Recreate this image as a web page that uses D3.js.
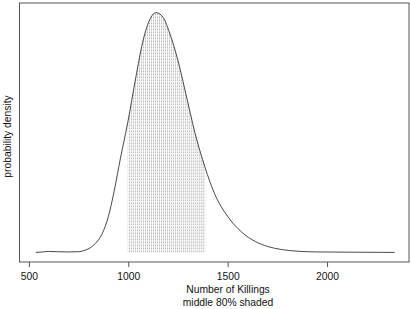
<!DOCTYPE html>
<html>
<head>
<meta charset="utf-8">
<script src="https://cdn.jsdelivr.net/npm/d3@7"></script>
<style>
  body { margin: 0; background: #fff; }
  svg { display: block; font-family: "Liberation Sans", Arial, sans-serif; }
</style>
</head>
<body>
<script>
// density curve (number of killings, relative density)
var killings = [535, 570, 600, 640, 700, 750, 783, 810, 833, 867, 900, 930, 960, 997,
  1038, 1072, 1105, 1140, 1175, 1210, 1250, 1290, 1335, 1386, 1434, 1500, 1570, 1640,
  1700, 1770, 1850, 1950, 2100, 2340];
var density = [0, 0.002, 0.004, 0.003, 0.002, 0.003, 0.009, 0.02, 0.036, 0.075, 0.15, 0.26, 0.39, 0.54,
  0.73, 0.875, 0.965, 1.0, 0.98, 0.91, 0.80, 0.66, 0.50, 0.355, 0.245, 0.15, 0.085, 0.045,
  0.025, 0.012, 0.005, 0.002, 0.001, 0];
var shadeRange = [997, 1387];   // middle 80%
var xTicks = [500, 1000, 1500, 2000];

var data = killings.map(function(k, i){ return {x: k, y: density[i]}; });

var W = 410, H = 309;
var pLeft = 19.5, pRight = 409, pTop = 3, pBottom = 262;

var xMin = d3.min(killings), xMax = d3.max(killings), yMax = d3.max(density);
var xPad = (xMax - xMin) * 0.04;

var x = d3.scaleLinear()
    .domain([xMin - xPad - 10, xMax + xPad])
    .range([pLeft, pRight]);

var y = d3.scaleLinear()
    .domain([-0.04 * yMax, 1.04 * yMax])
    .range([pBottom, pTop]);

var svg = d3.select("body").append("svg")
    .attr("width", W)
    .attr("height", H);

var line = d3.line()
    .x(function(d){ return x(d.x); })
    .y(function(d){ return y(d.y); })
    .curve(d3.curveMonotoneX);

var area = d3.area()
    .x(function(d){ return x(d.x); })
    .y0(y(0))
    .y1(function(d){ return y(d.y); })
    .curve(d3.curveMonotoneX);

// clips for the shaded middle part
svg.append("clipPath").attr("id", "under")
  .append("path").attr("d", area(data));
svg.append("clipPath").attr("id", "mid")
  .append("rect")
    .attr("x", x(shadeRange[0]))
    .attr("y", pTop)
    .attr("width", x(shadeRange[1]) - x(shadeRange[0]))
    .attr("height", pBottom - pTop);

var hatch = d3.range(shadeRange[0], shadeRange[1] + 1, 10);

svg.append("g")
    .attr("clip-path", "url(#mid)")
  .append("g")
    .attr("clip-path", "url(#under)")
  .selectAll("line")
  .data(hatch)
  .enter().append("line")
    .attr("x1", function(d){ return x(d); })
    .attr("x2", function(d){ return x(d); })
    .attr("y1", y(0))
    .attr("y2", pTop)
    .attr("stroke", "#9a9a9a")
    .attr("stroke-width", 0.7)
    .attr("stroke-dasharray", "2,1");

svg.append("path")
    .attr("d", line(data))
    .attr("fill", "none")
    .attr("stroke", "#333")
    .attr("stroke-width", 0.9);

// box
svg.append("rect")
    .attr("x", pLeft)
    .attr("y", pTop)
    .attr("width", pRight - pLeft)
    .attr("height", pBottom - pTop)
    .attr("fill", "none")
    .attr("stroke", "#555")
    .attr("stroke-width", 1);

var xAxis = d3.axisBottom(x)
    .tickValues(xTicks)
    .tickFormat(d3.format("d"))
    .tickSize(5)
    .tickPadding(5.3);

var gx = svg.append("g")
    .attr("transform", "translate(0," + pBottom + ")")
    .call(xAxis);
gx.select(".domain").remove();
gx.selectAll("line").attr("stroke", "#555");
gx.selectAll("text")
    .attr("font-size", 10.3)
    .attr("fill", "#111");

svg.append("text")
    .attr("x", 228)
    .attr("y", 293.3)
    .attr("text-anchor", "middle")
    .attr("font-size", 10.3)
    .attr("fill", "#111")
    .text("Number of Killings");

svg.append("text")
    .attr("x", 228)
    .attr("y", 306)
    .attr("text-anchor", "middle")
    .attr("font-size", 10.3)
    .attr("fill", "#111")
    .text("middle 80% shaded");

svg.append("text")
    .attr("transform", "translate(11.3,136.5) rotate(-90)")
    .attr("text-anchor", "middle")
    .attr("font-size", 10.3)
    .attr("fill", "#111")
    .text("probability density");
</script>
</body>
</html>
